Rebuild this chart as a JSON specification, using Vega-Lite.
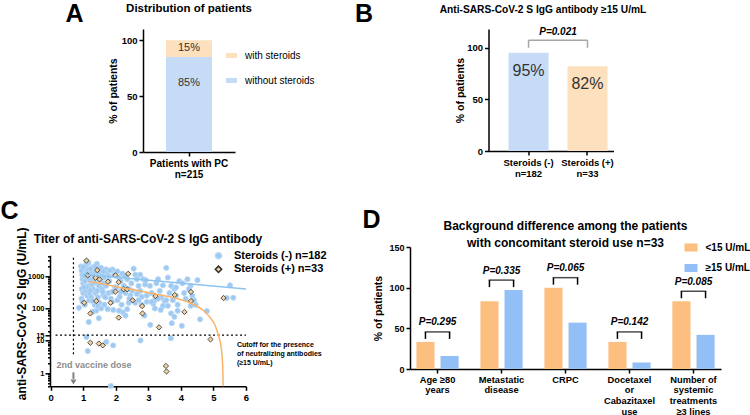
{
  "$schema": "https://vega.github.io/schema/vega-lite/v6.json",
  "background": "white",
  "padding": {"left": 0, "top": 1, "right": 0, "bottom": 0},
  "config": {
    "font": "Liberation Sans",
    "view": {"stroke": null},
    "axis": {"grid": false, "domainColor": "#000", "domainWidth": 1.5, "tickColor": "#000", "tickWidth": 1.5, "tickSize": 4, "labelColor": "#000", "labelFontWeight": "bold", "labelFontSize": 9.5, "labelPadding": 2, "titleColor": "#000", "titleFontWeight": "bold", "titleFontSize": 10.5},
    "axisQuantitative": {"labelOverlap": false, "labelBound": false},
    "axisX": {"labelOverlap": false, "labelFlush": false},
    "title": {"color": "#000", "fontWeight": "bold"},
    "legend": {"labelColor": "#000"}
  },
  "resolve": {"scale": {"color": "independent", "shape": "independent", "stroke": "independent"}, "legend": {"color": "independent", "shape": "independent", "stroke": "independent"}},
  "datasets": {
    "dist": [
      {"group": "Patients with PC|n=215", "cat": "without steroids", "pct": 85, "label": "85%"},
      {"group": "Patients with PC|n=215", "cat": "with steroids", "pct": 15, "label": "15%"}
    ],
    "barsB": [
      {"group": "Steroids (-)|n=182", "pct": 95, "label": "95%"},
      {"group": "Steroids (+)|n=33", "pct": 82, "label": "82%"}
    ],
    "pB": [{"from": "Steroids (-)|n=182", "to": "Steroids (+)|n=33", "p": "P=0.021"}],
    "barsD": [
      {"category": "Age ≥80|years", "group": "<15 U/mL", "pct": 33.3},
      {"category": "Age ≥80|years", "group": "≥15 U/mL", "pct": 16},
      {"category": "Metastatic|disease", "group": "<15 U/mL", "pct": 83.3},
      {"category": "Metastatic|disease", "group": "≥15 U/mL", "pct": 97},
      {"category": "CRPC", "group": "<15 U/mL", "pct": 100},
      {"category": "CRPC", "group": "≥15 U/mL", "pct": 57},
      {"category": "Docetaxel|or|Cabazitaxel|use", "group": "<15 U/mL", "pct": 33.3},
      {"category": "Docetaxel|or|Cabazitaxel|use", "group": "≥15 U/mL", "pct": 8},
      {"category": "Number of|systemic|treatments|≥3 lines", "group": "<15 U/mL", "pct": 83.3},
      {"category": "Number of|systemic|treatments|≥3 lines", "group": "≥15 U/mL", "pct": 42}
    ],
    "pD": [
      {"category": "Age ≥80|years", "p": "P=0.295"},
      {"category": "Metastatic|disease", "p": "P=0.335"},
      {"category": "CRPC", "p": "P=0.065"},
      {"category": "Docetaxel|or|Cabazitaxel|use", "p": "P=0.142"},
      {"category": "Number of|systemic|treatments|≥3 lines", "p": "P=0.085"}
    ],
    "fits": [
      {"s": "neg", "x": 1.0, "y": 1150}, {"s": "neg", "x": 6.0, "y": 400},
      {"s": "pos", "x": 1.17, "y": 680}, {"s": "pos", "x": 1.5, "y": 600}, {"s": "pos", "x": 2.0, "y": 470},
      {"s": "pos", "x": 2.5, "y": 385}, {"s": "pos", "x": 3.0, "y": 305}, {"s": "pos", "x": 3.5, "y": 245},
      {"s": "pos", "x": 3.78, "y": 215}, {"s": "pos", "x": 4.2, "y": 160}, {"s": "pos", "x": 4.49, "y": 118},
      {"s": "pos", "x": 4.7, "y": 85}, {"s": "pos", "x": 4.9, "y": 52}, {"s": "pos", "x": 5.05, "y": 30},
      {"s": "pos", "x": 5.15, "y": 15}, {"s": "pos", "x": 5.22, "y": 8}, {"s": "pos", "x": 5.26, "y": 4},
      {"s": "pos", "x": 5.28, "y": 2}, {"s": "pos", "x": 5.29, "y": 1}, {"s": "pos", "x": 5.295, "y": 0.6},
      {"s": "pos", "x": 5.3, "y": 0.3}
    ],
    "scatter": [
      {"x":0.93,"y":2000,"g":"Steroids (-) n=182"},{"x":0.95,"y":1500,"g":"Steroids (-) n=182"},{"x":0.97,"y":1100,"g":"Steroids (-) n=182"},{"x":0.98,"y":800,"g":"Steroids (-) n=182"},{"x":0.96,"y":400,"g":"Steroids (-) n=182"},{"x":0.95,"y":200,"g":"Steroids (-) n=182"},{"x":0.87,"y":105,"g":"Steroids (-) n=182"},{"x":1.0,"y":600,"g":"Steroids (-) n=182"},{"x":1.0,"y":300,"g":"Steroids (-) n=182"},{"x":0.98,"y":160,"g":"Steroids (-) n=182"},
      {"x":1.05,"y":1800,"g":"Steroids (-) n=182"},{"x":1.08,"y":2200,"g":"Steroids (-) n=182"},{"x":1.1,"y":1300,"g":"Steroids (-) n=182"},{"x":1.12,"y":900,"g":"Steroids (-) n=182"},{"x":1.05,"y":700,"g":"Steroids (-) n=182"},{"x":1.15,"y":500,"g":"Steroids (-) n=182"},{"x":1.08,"y":350,"g":"Steroids (-) n=182"},{"x":1.12,"y":250,"g":"Steroids (-) n=182"},{"x":1.18,"y":180,"g":"Steroids (-) n=182"},{"x":1.05,"y":130,"g":"Steroids (-) n=182"},
      {"x":1.15,"y":1600,"g":"Steroids (-) n=182"},{"x":1.2,"y":1100,"g":"Steroids (-) n=182"},{"x":1.1,"y":450,"g":"Steroids (-) n=182"},{"x":1.17,"y":38,"g":"Steroids (-) n=182"},{"x":1.2,"y":280,"g":"Steroids (-) n=182"},{"x":1.1,"y":13,"g":"Steroids (-) n=182"},{"x":1.14,"y":4.8,"g":"Steroids (-) n=182"},{"x":1.2,"y":750,"g":"Steroids (-) n=182"},{"x":1.0,"y":1900,"g":"Steroids (-) n=182"},{"x":1.16,"y":2600,"g":"Steroids (-) n=182"},
      {"x":1.25,"y":1400,"g":"Steroids (-) n=182"},{"x":1.3,"y":1900,"g":"Steroids (-) n=182"},{"x":1.35,"y":1200,"g":"Steroids (-) n=182"},{"x":1.28,"y":800,"g":"Steroids (-) n=182"},{"x":1.33,"y":600,"g":"Steroids (-) n=182"},{"x":1.4,"y":950,"g":"Steroids (-) n=182"},{"x":1.45,"y":1700,"g":"Steroids (-) n=182"},{"x":1.42,"y":2400,"g":"Steroids (-) n=182"},{"x":1.3,"y":400,"g":"Steroids (-) n=182"},{"x":1.38,"y":300,"g":"Steroids (-) n=182"},
      {"x":1.25,"y":220,"g":"Steroids (-) n=182"},{"x":1.48,"y":500,"g":"Steroids (-) n=182"},{"x":1.45,"y":220,"g":"Steroids (-) n=182"},{"x":1.35,"y":130,"g":"Steroids (-) n=182"},{"x":1.5,"y":150,"g":"Steroids (-) n=182"},{"x":1.32,"y":1000,"g":"Steroids (-) n=182"},{"x":1.27,"y":550,"g":"Steroids (-) n=182"},{"x":1.43,"y":350,"g":"Steroids (-) n=182"},{"x":1.5,"y":1300,"g":"Steroids (-) n=182"},{"x":1.28,"y":170,"g":"Steroids (-) n=182"},
      {"x":1.4,"y":85,"g":"Steroids (-) n=182"},{"x":1.48,"y":50,"g":"Steroids (-) n=182"},{"x":1.35,"y":650,"g":"Steroids (-) n=182"},{"x":1.22,"y":360,"g":"Steroids (-) n=182"},{"x":1.45,"y":120,"g":"Steroids (-) n=182"},
      {"x":1.55,"y":1800,"g":"Steroids (-) n=182"},{"x":1.6,"y":1200,"g":"Steroids (-) n=182"},{"x":1.65,"y":900,"g":"Steroids (-) n=182"},{"x":1.7,"y":1600,"g":"Steroids (-) n=182"},{"x":1.75,"y":1300,"g":"Steroids (-) n=182"},{"x":1.8,"y":700,"g":"Steroids (-) n=182"},{"x":1.58,"y":400,"g":"Steroids (-) n=182"},{"x":1.62,"y":260,"g":"Steroids (-) n=182"},{"x":1.7,"y":500,"g":"Steroids (-) n=182"},{"x":1.78,"y":300,"g":"Steroids (-) n=182"},
      {"x":1.85,"y":200,"g":"Steroids (-) n=182"},{"x":1.9,"y":1600,"g":"Steroids (-) n=182"},{"x":1.95,"y":1100,"g":"Steroids (-) n=182"},{"x":1.55,"y":100,"g":"Steroids (-) n=182"},{"x":1.65,"y":130,"g":"Steroids (-) n=182"},{"x":1.75,"y":95,"g":"Steroids (-) n=182"},{"x":1.88,"y":160,"g":"Steroids (-) n=182"},{"x":1.71,"y":9.2,"g":"Steroids (-) n=182"},{"x":1.92,"y":7.2,"g":"Steroids (-) n=182"},{"x":1.85,"y":0.4,"g":"Steroids (-) n=182"},
      {"x":1.6,"y":600,"g":"Steroids (-) n=182"},{"x":1.82,"y":1500,"g":"Steroids (-) n=182"},{"x":1.68,"y":220,"g":"Steroids (-) n=182"},{"x":1.98,"y":450,"g":"Steroids (-) n=182"},{"x":1.9,"y":330,"g":"Steroids (-) n=182"},{"x":1.78,"y":1000,"g":"Steroids (-) n=182"},{"x":1.92,"y":90,"g":"Steroids (-) n=182"},{"x":1.62,"y":1400,"g":"Steroids (-) n=182"},
      {"x":2.05,"y":1400,"g":"Steroids (-) n=182"},{"x":2.1,"y":900,"g":"Steroids (-) n=182"},{"x":2.15,"y":700,"g":"Steroids (-) n=182"},{"x":2.2,"y":1200,"g":"Steroids (-) n=182"},{"x":2.25,"y":500,"g":"Steroids (-) n=182"},{"x":2.3,"y":300,"g":"Steroids (-) n=182"},{"x":2.35,"y":800,"g":"Steroids (-) n=182"},{"x":2.4,"y":400,"g":"Steroids (-) n=182"},{"x":2.45,"y":250,"g":"Steroids (-) n=182"},{"x":2.05,"y":180,"g":"Steroids (-) n=182"},
      {"x":2.12,"y":230,"g":"Steroids (-) n=182"},{"x":2.18,"y":130,"g":"Steroids (-) n=182"},{"x":2.22,"y":75,"g":"Steroids (-) n=182"},{"x":2.3,"y":60,"g":"Steroids (-) n=182"},{"x":2.4,"y":150,"g":"Steroids (-) n=182"},{"x":2.48,"y":600,"g":"Steroids (-) n=182"},{"x":2.02,"y":450,"g":"Steroids (-) n=182"},{"x":2.28,"y":1000,"g":"Steroids (-) n=182"},{"x":2.42,"y":200,"g":"Steroids (-) n=182"},{"x":2.15,"y":330,"g":"Steroids (-) n=182"},
      {"x":2.35,"y":95,"g":"Steroids (-) n=182"},{"x":2.5,"y":350,"g":"Steroids (-) n=182"},{"x":2.1,"y":85,"g":"Steroids (-) n=182"},
      {"x":2.55,"y":1700,"g":"Steroids (-) n=182"},{"x":2.6,"y":1100,"g":"Steroids (-) n=182"},{"x":2.65,"y":800,"g":"Steroids (-) n=182"},{"x":2.7,"y":500,"g":"Steroids (-) n=182"},{"x":2.75,"y":350,"g":"Steroids (-) n=182"},{"x":2.8,"y":230,"g":"Steroids (-) n=182"},{"x":2.85,"y":800,"g":"Steroids (-) n=182"},{"x":2.9,"y":550,"g":"Steroids (-) n=182"},{"x":2.95,"y":250,"g":"Steroids (-) n=182"},{"x":2.6,"y":150,"g":"Steroids (-) n=182"},
      {"x":2.7,"y":180,"g":"Steroids (-) n=182"},{"x":2.8,"y":130,"g":"Steroids (-) n=182"},{"x":2.88,"y":60,"g":"Steroids (-) n=182"},{"x":2.95,"y":160,"g":"Steroids (-) n=182"},{"x":2.65,"y":280,"g":"Steroids (-) n=182"},{"x":2.75,"y":1100,"g":"Steroids (-) n=182"},{"x":2.92,"y":750,"g":"Steroids (-) n=182"},{"x":2.76,"y":10.2,"g":"Steroids (-) n=182"},
      {"x":3.05,"y":500,"g":"Steroids (-) n=182"},{"x":3.1,"y":300,"g":"Steroids (-) n=182"},{"x":3.15,"y":140,"g":"Steroids (-) n=182"},{"x":3.2,"y":180,"g":"Steroids (-) n=182"},{"x":3.25,"y":600,"g":"Steroids (-) n=182"},{"x":3.3,"y":800,"g":"Steroids (-) n=182"},{"x":3.35,"y":350,"g":"Steroids (-) n=182"},{"x":3.4,"y":220,"g":"Steroids (-) n=182"},{"x":3.45,"y":120,"g":"Steroids (-) n=182"},{"x":3.5,"y":170,"g":"Steroids (-) n=182"},
      {"x":3.06,"y":31,"g":"Steroids (-) n=182"},{"x":3.2,"y":100,"g":"Steroids (-) n=182"},{"x":3.38,"y":90,"g":"Steroids (-) n=182"},{"x":3.45,"y":520,"g":"Steroids (-) n=182"},{"x":3.1,"y":160,"g":"Steroids (-) n=182"},{"x":3.3,"y":200,"g":"Steroids (-) n=182"},
      {"x":3.55,"y":1800,"g":"Steroids (-) n=182"},{"x":3.6,"y":900,"g":"Steroids (-) n=182"},{"x":3.65,"y":300,"g":"Steroids (-) n=182"},{"x":3.7,"y":500,"g":"Steroids (-) n=182"},{"x":3.75,"y":180,"g":"Steroids (-) n=182"},{"x":3.8,"y":400,"g":"Steroids (-) n=182"},{"x":3.85,"y":250,"g":"Steroids (-) n=182"},{"x":3.9,"y":130,"g":"Steroids (-) n=182"},{"x":3.95,"y":700,"g":"Steroids (-) n=182"},{"x":3.6,"y":120,"g":"Steroids (-) n=182"},
      {"x":3.7,"y":70,"g":"Steroids (-) n=182"},{"x":3.8,"y":55,"g":"Steroids (-) n=182"},{"x":3.69,"y":12,"g":"Steroids (-) n=182"},{"x":3.72,"y":35,"g":"Steroids (-) n=182"},{"x":3.9,"y":85,"g":"Steroids (-) n=182"},{"x":3.55,"y":180,"g":"Steroids (-) n=182"},{"x":3.85,"y":450,"g":"Steroids (-) n=182"},
      {"x":4.05,"y":600,"g":"Steroids (-) n=182"},{"x":4.1,"y":300,"g":"Steroids (-) n=182"},{"x":4.2,"y":800,"g":"Steroids (-) n=182"},{"x":4.3,"y":500,"g":"Steroids (-) n=182"},{"x":4.35,"y":250,"g":"Steroids (-) n=182"},{"x":4.4,"y":180,"g":"Steroids (-) n=182"},{"x":4.45,"y":130,"g":"Steroids (-) n=182"},{"x":4.03,"y":29,"g":"Steroids (-) n=182"},{"x":4.15,"y":200,"g":"Steroids (-) n=182"},{"x":4.3,"y":120,"g":"Steroids (-) n=182"},
      {"x":4.25,"y":400,"g":"Steroids (-) n=182"},{"x":4.51,"y":750,"g":"Steroids (-) n=182"},{"x":4.59,"y":46,"g":"Steroids (-) n=182"},{"x":4.8,"y":83,"g":"Steroids (-) n=182"},{"x":5.41,"y":210,"g":"Steroids (-) n=182"},{"x":5.61,"y":215,"g":"Steroids (-) n=182"},{"x":5.51,"y":520,"g":"Steroids (-) n=182"},
      {"x":1.02,"y":1000,"g":"Steroids (-) n=182"},{"x":1.1,"y":2800,"g":"Steroids (-) n=182"},{"x":1.22,"y":1700,"g":"Steroids (-) n=182"},{"x":1.38,"y":2000,"g":"Steroids (-) n=182"},{"x":1.52,"y":800,"g":"Steroids (-) n=182"},{"x":1.6,"y":330,"g":"Steroids (-) n=182"},{"x":1.02,"y":450,"g":"Steroids (-) n=182"},{"x":1.3,"y":80,"g":"Steroids (-) n=182"},
      {"x":1.10,"y":3030,"g":"Steroids (+) n=33"},{"x":1.14,"y":1050,"g":"Steroids (+) n=33"},{"x":1.43,"y":1530,"g":"Steroids (+) n=33"},{"x":1.38,"y":890,"g":"Steroids (+) n=33"},{"x":1.50,"y":790,"g":"Steroids (+) n=33"},{"x":1.76,"y":670,"g":"Steroids (+) n=33"},{"x":1.99,"y":1050,"g":"Steroids (+) n=33"},{"x":2.09,"y":650,"g":"Steroids (+) n=33"},{"x":2.38,"y":1180,"g":"Steroids (+) n=33"},{"x":2.24,"y":390,"g":"Steroids (+) n=33"},
      {"x":2.35,"y":390,"g":"Steroids (+) n=33"},{"x":1.99,"y":330,"g":"Steroids (+) n=33"},{"x":1.03,"y":150,"g":"Steroids (+) n=33"},{"x":1.40,"y":170,"g":"Steroids (+) n=33"},{"x":1.84,"y":150,"g":"Steroids (+) n=33"},{"x":2.52,"y":178,"g":"Steroids (+) n=33"},{"x":2.81,"y":118,"g":"Steroids (+) n=33"},{"x":2.82,"y":70,"g":"Steroids (+) n=33"},{"x":3.22,"y":240,"g":"Steroids (+) n=33"},{"x":3.81,"y":260,"g":"Steroids (+) n=33"},
      {"x":4.31,"y":325,"g":"Steroids (+) n=33"},{"x":4.31,"y":170,"g":"Steroids (+) n=33"},{"x":4.11,"y":78,"g":"Steroids (+) n=33"},{"x":1.22,"y":70,"g":"Steroids (+) n=33"},{"x":2.09,"y":52,"g":"Steroids (+) n=33"},{"x":3.33,"y":26,"g":"Steroids (+) n=33"},{"x":5.31,"y":210,"g":"Steroids (+) n=33"},{"x":1.22,"y":8.7,"g":"Steroids (+) n=33"},{"x":1.48,"y":8.2,"g":"Steroids (+) n=33"},{"x":1.60,"y":7.2,"g":"Steroids (+) n=33"},
      {"x":4.91,"y":11,"g":"Steroids (+) n=33"},{"x":3.54,"y":1.66,"g":"Steroids (+) n=33"},{"x":3.56,"y":1.12,"g":"Steroids (+) n=33"}
    ]
  },
  "spacing": 18,
  "vconcat": [
    {
      "spacing": 5,
      "resolve": {"scale": {"color": "independent", "shape": "independent", "stroke": "independent"}, "legend": {"color": "independent", "shape": "independent", "stroke": "independent"}},
      "hconcat": [
        {"width": 10, "height": 5, "data": {"values": []}, "mark": "point"},
        {
          "spacing": 39.5,
          "resolve": {"scale": {"color": "independent", "shape": "independent", "stroke": "independent"}, "legend": {"color": "independent", "shape": "independent", "stroke": "independent"}},
          "hconcat": [
            {
              "width": 92, "height": 123,
              "title": {"text": "Distribution of patients", "fontSize": 11.5, "offset": -12.5},
              "data": {"name": "dist"},
              "layer": [
                {
                  "mark": {"type": "bar"},
                  "encoding": {
                    "x": {"field": "group", "type": "nominal", "scale": {"paddingInner": 0.5, "paddingOuter": 0.25}, "axis": {"title": "A", "titleX": -78, "titleY": -150.5, "titleAngle": 0, "titleAlign": "left", "titleBaseline": "top", "titleFontSize": 25, "labelAngle": 0, "labelExpr": "split(datum.label, '|')", "labelFontSize": 10, "labelLineHeight": 11.5, "labelPadding": 2, "labelBaseline": "top"}},
                    "y": {"field": "pct", "type": "quantitative", "stack": "zero", "scale": {"domain": [0, 110], "nice": false}, "axis": {"values": [0, 50, 100], "title": "% of patients", "titleX": -30, "titleBaseline": "middle"}},
                    "color": {"field": "cat", "type": "nominal", "scale": {"domain": ["with steroids", "without steroids"], "range": ["#fde0bd", "#c6dcf6"]}, "legend": {"title": null, "orient": "none", "legendX": 82, "legendY": 20, "symbolType": "M-1,-0.45L1,-0.45L1,0.45L-1,0.45Z", "symbolSize": 121, "labelFontSize": 10, "rowPadding": 13, "labelOffset": 7, "padding": 0}},
                    "order": {"field": "cat", "sort": "descending"}
                  }
                },
                {
                  "transform": [{"stack": "pct", "groupby": ["group"], "sort": [{"field": "cat", "order": "descending"}], "as": ["y0", "y1"]}, {"filter": "datum.cat == 'with steroids'"}],
                  "mark": {"type": "text", "fontSize": 11, "color": "#333", "dy": 8, "baseline": "middle"},
                  "encoding": {"x": {"field": "group", "type": "nominal"}, "y": {"field": "y1", "type": "quantitative"}, "text": {"field": "label"}}
                },
                {
                  "transform": [{"stack": "pct", "groupby": ["group"], "sort": [{"field": "cat", "order": "descending"}], "as": ["y0", "y1"]}, {"filter": "datum.cat == 'without steroids'"}],
                  "mark": {"type": "text", "fontSize": 11, "color": "#333", "dy": 26, "baseline": "middle"},
                  "encoding": {"x": {"field": "group", "type": "nominal"}, "y": {"field": "y1", "type": "quantitative"}, "text": {"field": "label"}}
                }
              ]
            },
            {
              "width": 125, "height": 122,
              "title": {"text": "Anti-SARS-CoV-2 S IgG antibody ≥15 U/mL", "fontSize": 10.2, "offset": -14, "dx": -8},
              "data": {"name": "barsB"},
              "layer": [
                {
                  "mark": {"type": "bar"},
                  "encoding": {
                    "x": {"field": "group", "type": "nominal", "scale": {"domain": ["Steroids (-)|n=182", "Steroids (+)|n=33"], "paddingInner": 0.32, "paddingOuter": 0.22, "align": 0.77}, "axis": {"title": "B", "titleX": -134, "titleY": -149.5, "titleAngle": 0, "titleAlign": "left", "titleBaseline": "top", "titleFontSize": 25, "labelAngle": 0, "labelExpr": "split(datum.label, '|')", "labelFontSize": 9.5, "labelLineHeight": 11.5, "labelPadding": 2, "labelBaseline": "top"}},
                    "y": {"field": "pct", "type": "quantitative", "scale": {"domain": [0, 118], "nice": false}, "axis": {"values": [0, 50, 100], "title": "% of patients", "titleX": -28, "titleBaseline": "middle"}},
                    "color": {"field": "group", "type": "nominal", "scale": {"domain": ["Steroids (-)|n=182", "Steroids (+)|n=33"], "range": ["#c6dcf6", "#fde0bd"]}, "legend": null}
                  }
                },
                {
                  "mark": {"type": "text", "fontSize": 16, "color": "#333", "dy": 18, "baseline": "middle"},
                  "encoding": {"x": {"field": "group", "type": "nominal"}, "y": {"field": "pct", "type": "quantitative"}, "text": {"field": "label"}}
                },
                {
                  "transform": [{"joinaggregate": [{"op": "max", "field": "pct", "as": "top"}]}],
                  "mark": {"type": "rule", "color": "#a6a6a6", "strokeWidth": 1.5, "yOffset": -12.6, "y2Offset": -5},
                  "encoding": {"x": {"field": "group", "type": "nominal"}, "y": {"field": "top", "type": "quantitative"}, "y2": {"field": "top"}}
                },
                {
                  "data": {"name": "pB"},
                  "transform": [{"lookup": "from", "from": {"data": {"name": "barsB"}, "key": "group", "fields": ["pct"]}}],
                  "mark": {"type": "rule", "color": "#a6a6a6", "strokeWidth": 1.5, "yOffset": -12.6},
                  "encoding": {"x": {"field": "from", "type": "nominal", "bandPosition": 0.5}, "x2": {"field": "to", "bandPosition": 0.5}, "y": {"field": "pct", "type": "quantitative"}}
                },
                {
                  "data": {"name": "pB"},
                  "transform": [{"lookup": "from", "from": {"data": {"name": "barsB"}, "key": "group", "fields": ["pct"]}}],
                  "mark": {"type": "text", "fontStyle": "italic", "fontWeight": "bold", "fontSize": 10, "baseline": "middle", "dy": -21, "xOffset": 29.5, "color": "#000"},
                  "encoding": {"x": {"field": "from", "type": "nominal"}, "y": {"field": "pct", "type": "quantitative"}, "text": {"field": "p"}}
                }
              ]
            }
          ]
        }
      ]
    },
    {
      "spacing": 35,
      "resolve": {"scale": {"color": "independent", "shape": "independent", "stroke": "independent"}, "legend": {"color": "independent", "shape": "independent", "stroke": "independent"}},
      "hconcat": [
        {
          "spacing": -49.7,
          "resolve": {"scale": {"color": "independent", "shape": "independent", "stroke": "independent"}, "legend": {"color": "independent", "shape": "independent", "stroke": "independent"}},
          "vconcat": [
            {"width": 1, "height": 1, "data": {"values": []}, "mark": "point"},
            {
              "width": 196, "height": 131,
              "title": {"text": "Titer of anti-SARS-CoV-2 S IgG antibody", "fontSize": 12, "offset": -46.5},
              "layer": [
                {
                  "data": {"name": "scatter"},
                  "mark": {"type": "point", "filled": true, "opacity": 1, "strokeWidth": 0.8, "size": 28},
                  "encoding": {
                    "x": {"field": "x", "type": "quantitative", "scale": {"domain": [-0.02, 6], "nice": false}, "axis": {"values": [0, 1, 2, 3, 4, 5, 6], "tickCount": 7, "labelOverlap": false, "labelBound": false, "labelSeparation": 0, "labelExpr": "'' + datum.value", "title": "C", "titleX": -50, "titleY": -187.3, "titleAngle": 0, "titleAlign": "left", "titleBaseline": "top", "titleFontSize": 25, "labelFlush": false, "labelFontSize": 9.5}},
                    "y": {"field": "y", "type": "quantitative", "scale": {"type": "log", "domain": [0.39, 4400], "nice": false}, "axis": {"values": [0.4, 0.5, 0.6, 0.7, 0.8, 0.9, 1, 2, 3, 4, 5, 6, 7, 8, 9, 10, 15, 20, 30, 40, 50, 60, 70, 80, 90, 100, 200, 300, 400, 500, 600, 700, 800, 900, 1000, 2000, 3000, 4000], "labelExpr": "indexof([1, 10, 15, 100, 1000], datum.value) >= 0 ? '' + datum.value : ''", "tickSize": {"condition": {"test": "indexof([1, 10, 15, 100, 1000], datum.value) >= 0", "value": 5}, "value": 2.5}, "labelOverlap": false, "labelFontSize": 7.5, "labelPadding": 1, "title": "anti-SARS-CoV-2 S IgG (U/mL)", "titleFontSize": 12, "titleX": -29, "titleY": 58, "titleBaseline": "middle"}},
                    "shape": {"field": "g", "type": "nominal", "scale": {"domain": ["Steroids (-) n=182", "Steroids (+) n=33"], "range": ["circle", "diamond"]}, "legend": {"title": null, "orient": "none", "legendX": 163, "legendY": -5, "labelFontSize": 11, "labelFontWeight": "bold", "symbolSize": 40, "rowPadding": 0.5, "labelOffset": 10, "padding": 0}},
                    "color": {"field": "g", "type": "nominal", "scale": {"domain": ["Steroids (-) n=182", "Steroids (+) n=33"], "range": ["#9fc9f1", "#f2d2a2"]}, "legend": {"title": null, "orient": "none", "legendX": 163, "legendY": -5, "labelFontSize": 11, "labelFontWeight": "bold", "symbolSize": 40, "rowPadding": 0.5, "labelOffset": 10, "padding": 0}},
                    "stroke": {"field": "g", "type": "nominal", "scale": {"domain": ["Steroids (-) n=182", "Steroids (+) n=33"], "range": ["#bcdaf6", "#2a2a2a"]}, "legend": {"title": null, "orient": "none", "legendX": 163, "legendY": -5, "labelFontSize": 11, "labelFontWeight": "bold", "symbolSize": 40, "rowPadding": 0.5, "labelOffset": 10, "padding": 0}}
                  }
                },
                {
                  "data": {"values": [{}]},
                  "mark": {"type": "rule", "strokeDash": [2, 2.5], "color": "#000", "strokeWidth": 1.2},
                  "encoding": {"x": {"datum": 0.7}, "y": {"datum": 3.8}, "y2": {"datum": 4400}}
                },
                {
                  "data": {"values": [{}]},
                  "mark": {"type": "rule", "strokeDash": [2, 2.5], "color": "#000", "strokeWidth": 1.2},
                  "encoding": {"x": {"datum": 0.15}, "x2": {"datum": 6}, "y": {"datum": 15}}
                },
                {
                  "data": {"name": "fits"},
                  "transform": [{"filter": "datum.s == 'neg'"}],
                  "mark": {"type": "line", "color": "#8cc3f0", "strokeWidth": 1.5, "clip": true},
                  "encoding": {"x": {"field": "x", "type": "quantitative"}, "y": {"field": "y", "type": "quantitative"}}
                },
                {
                  "data": {"name": "fits"},
                  "transform": [{"filter": "datum.s == 'pos'"}],
                  "mark": {"type": "line", "color": "#f7b46a", "strokeWidth": 1.5, "clip": true, "interpolate": "monotone"},
                  "encoding": {"x": {"field": "x", "type": "quantitative"}, "y": {"field": "y", "type": "quantitative"}}
                },
                {
                  "data": {"values": [{}]},
                  "mark": {"type": "rule", "color": "#808080", "strokeWidth": 2},
                  "encoding": {"x": {"datum": 0.7}, "y": {"datum": 1.05}, "y2": {"datum": 0.66}}
                },
                {
                  "data": {"values": [{}]},
                  "mark": {"type": "point", "shape": "triangle-down", "filled": true, "color": "#808080", "opacity": 1, "size": 36},
                  "encoding": {"x": {"datum": 0.7}, "y": {"datum": 0.53}}
                },
                {
                  "data": {"values": [{"t": "2nd vaccine dose"}]},
                  "mark": {"type": "text", "align": "left", "baseline": "middle", "fontSize": 9, "fontWeight": "bold", "color": "#8c8c8c"},
                  "encoding": {"x": {"datum": 0.18}, "y": {"datum": 1.78}, "text": {"field": "t"}}
                },
                {
                  "data": {"values": [{"t": "Cutoff for the presence\nof neutralizing antibodies\n(≥15 U/mL)"}]},
                  "mark": {"type": "text", "align": "left", "baseline": "top", "fontSize": 7, "fontWeight": "bold", "color": "#000", "lineBreak": "\n", "lineHeight": 9},
                  "encoding": {"x": {"datum": 5.72}, "y": {"datum": 9.5}, "text": {"field": "t"}}
                }
              ]
            }
          ]
        },
        {
          "width": 311, "height": 122,
          "title": {"text": ["Background difference among the patients", "with concomitant steroid use n=33"], "fontSize": 12, "lineHeight": 17.6, "offset": -43},
          "data": {"name": "barsD"},
          "layer": [
            {
              "mark": {"type": "bar"},
              "encoding": {
                "x": {"field": "category", "type": "nominal", "scale": {"domain": ["Age ≥80|years", "Metastatic|disease", "CRPC", "Docetaxel|or|Cabazitaxel|use", "Number of|systemic|treatments|≥3 lines"], "paddingInner": 0.34, "paddingOuter": 0.1}, "axis": {"title": "D", "titleX": -48, "titleY": -161.7, "titleAngle": 0, "titleAlign": "left", "titleBaseline": "top", "titleFontSize": 25, "labelAngle": 0, "labelExpr": "split(datum.label, '|')", "labelFontSize": 9.3, "labelLineHeight": 10.7, "labelPadding": 2, "labelBaseline": "top"}},
                "xOffset": {"field": "group", "type": "nominal", "scale": {"domain": ["<15 U/mL", "≥15 U/mL"], "paddingInner": 0.25, "paddingOuter": 0}},
                "y": {"field": "pct", "type": "quantitative", "scale": {"domain": [0, 150], "nice": false}, "axis": {"values": [0, 50, 100, 150], "title": "% of patients", "titleX": -32, "titleBaseline": "middle", "labelFontSize": 9}},
                "color": {"field": "group", "type": "nominal", "scale": {"domain": ["<15 U/mL", "≥15 U/mL"], "range": ["#fdbf80", "#92c0f6"]}, "legend": {"title": null, "orient": "none", "legendX": 273.5, "legendY": -7, "symbolType": "M-1,-0.62L1,-0.62L1,0.62L-1,0.62Z", "symbolSize": 169, "labelFontSize": 10, "labelFontWeight": "bold", "rowPadding": 7.5, "labelOffset": 7, "padding": 0}}
              }
            },
            {
              "transform": [{"joinaggregate": [{"op": "max", "field": "pct", "as": "top"}], "groupby": ["category"]}],
              "mark": {"type": "rule", "color": "#000", "strokeWidth": 1.5, "yOffset": -10, "y2Offset": -3},
              "encoding": {"x": {"field": "category", "type": "nominal"}, "xOffset": {"field": "group", "type": "nominal"}, "y": {"field": "top", "type": "quantitative"}, "y2": {"field": "top"}}
            },
            {
              "transform": [{"aggregate": [{"op": "max", "field": "pct", "as": "top"}], "groupby": ["category"]}],
              "mark": {"type": "tick", "orient": "horizontal", "color": "#000", "thickness": 1.5, "size": 25.6, "yOffset": -10},
              "encoding": {"x": {"field": "category", "type": "nominal"}, "y": {"field": "top", "type": "quantitative"}}
            },
            {
              "transform": [{"aggregate": [{"op": "max", "field": "pct", "as": "top"}], "groupby": ["category"]}, {"lookup": "category", "from": {"data": {"name": "pD"}, "key": "category", "fields": ["p"]}}],
              "mark": {"type": "text", "fontStyle": "italic", "fontWeight": "bold", "fontSize": 10, "baseline": "middle", "dy": -19.5, "color": "#000"},
              "encoding": {"x": {"field": "category", "type": "nominal"}, "y": {"field": "top", "type": "quantitative"}, "text": {"field": "p"}}
            }
          ]
        }
      ]
    }
  ]
}
